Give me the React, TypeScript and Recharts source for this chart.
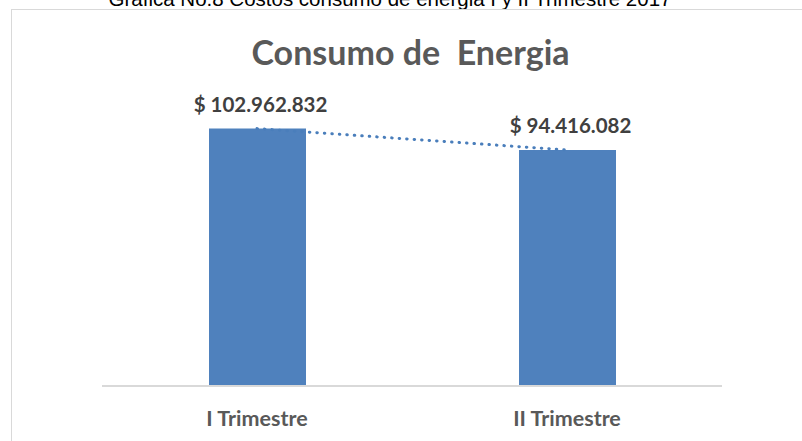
import { Bar, ComposedChart, LabelList, Line, XAxis, YAxis } from "recharts";

const categories = ["I Trimestre", "II Trimestre"];
const costs = [102962832, 94416082];
const costLabels = ["$ 102.962.832", "$ 94.416.082"];

const data = categories.map((name, i) => ({ name, value: costs[i], label: costLabels[i] }));

const FONT = "Lato, 'Open Sans', sans-serif";

function CategoryTick(props: any) {
  const { x, y, payload } = props;
  return (
    <text x={x} y={y + 32} textAnchor="middle" fill="#595959" fontFamily={FONT} fontWeight={700} fontSize={21.5}>
      {payload.value}
    </text>
  );
}

function ValueLabel(props: any) {
  const { x, y, width, index } = props;
  return (
    <text x={x + width / 2 + 3} y={y - 17} textAnchor="middle" fill="#404040" fontFamily={FONT} fontWeight={700} fontSize={20.5}>
      {data[index].label}
    </text>
  );
}

export default function App() {
  return (
    <div style={{ position: "fixed", left: 0, top: 0, width: 802, height: 441, background: "#fff", overflow: "hidden" }}>
      <div
        style={{
          position: "absolute",
          left: 0,
          width: 780,
          top: -13,
          textAlign: "center",
          fontFamily: "'Liberation Sans', Arial, sans-serif",
          fontSize: 20.5,
          color: "#000",
          whiteSpace: "nowrap",
        }}
      >
        Grafica No.8 Costos consumo de energia I y II Trimestre 2017
      </div>
      <div
        style={{
          position: "absolute",
          left: 11,
          top: 9,
          width: 820,
          height: 460,
          border: "1.5px solid #d9d9d9",
        }}
      />
      <div
        style={{
          position: "absolute",
          left: 0,
          width: 821,
          top: 31,
          textAlign: "center",
          fontFamily: FONT,
          fontWeight: 700,
          fontSize: 34,
          color: "#595959",
          whiteSpace: "pre",
        }}
      >
        Consumo de  Energia
      </div>
      <div style={{ position: "absolute", left: 0, top: 0 }}>
        <ComposedChart width={802} height={441} data={data} margin={{ top: 86, right: 80, bottom: 15, left: 102 }}>
          <XAxis
            dataKey="name"
            axisLine={{ stroke: "#d9d9d9", strokeWidth: 2 }}
            tickLine={false}
            tick={<CategoryTick />}
            height={40}
            interval={0}
          />
          <YAxis hide domain={[0, 120000000]} />
          <Bar dataKey="value" fill="#4f81bd" barSize={97} isAnimationActive={false}>
            <LabelList dataKey="label" content={<ValueLabel />} />
          </Bar>
          <Line
            dataKey="value"
            type="linear"
            stroke="#4a7ebb"
            strokeWidth={3}
            strokeDasharray="0.5 7"
            strokeLinecap="round"
            dot={false}
            activeDot={false}
            isAnimationActive={false}
          />
        </ComposedChart>
      </div>
    </div>
  );
}
